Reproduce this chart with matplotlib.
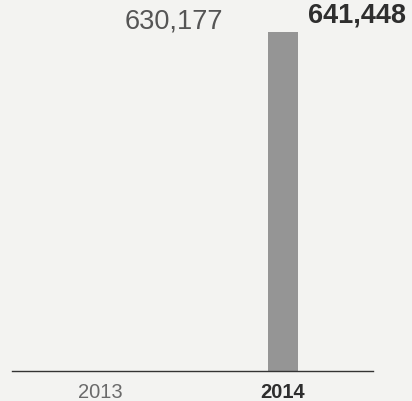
import numpy as np
import matplotlib.pyplot as plt

# data
years = ['2013', '2014']
values = [630177, 641448]
bar_colors = ['#f3f3f1', '#959595']
label_weights = ['light', 'bold']
label_colors = ['#555555', '#2e2e2e']
year_colors = ['#6a6a6a', '#2e2e2e']

bg = '#f3f3f1'

fig = plt.figure(figsize=(4.12, 4.02), dpi=100, facecolor=bg)
ax = fig.add_axes([12 / 412, 30 / 402, 361 / 412, 372 / 402])
ax.set_facecolor(bg)

x = np.arange(len(years))
ax.bar(x, values, width=30 / 183, color=bar_colors, zorder=2)

ax.set_xlim(-88 / 183, 273 / 183)
ax.set_ylim(0, max(values) * 372 / 339)

for spine in ['top', 'left', 'right']:
    ax.spines[spine].set_visible(False)
ax.spines['bottom'].set_color('#333333')
ax.spines['bottom'].set_linewidth(1.0)
ax.set_xticks([])
ax.set_yticks([])

# value labels to the right of each bar top
for i, v in enumerate(values):
    ax.annotate(f'{v:,}', xy=(x[i] + 15 / 183, v), xytext=(7, 3.5),
                textcoords='offset points', ha='left', va='bottom',
                fontsize=19.5, family='Liberation Sans',
                fontweight='bold' if label_weights[i] == 'bold' else 'normal',
                color=label_colors[i])

# year labels under the axis
for i, yr in enumerate(years):
    ax.annotate(yr, xy=(x[i], 0), xytext=(0, -15), textcoords='offset points',
                ha='center', va='center', fontsize=14.5,
                family='Liberation Sans',
                fontweight='bold' if label_weights[i] == 'bold' else 'normal',
                color=year_colors[i], annotation_clip=False)

fig.savefig('out.png', dpi=100, facecolor=bg)
